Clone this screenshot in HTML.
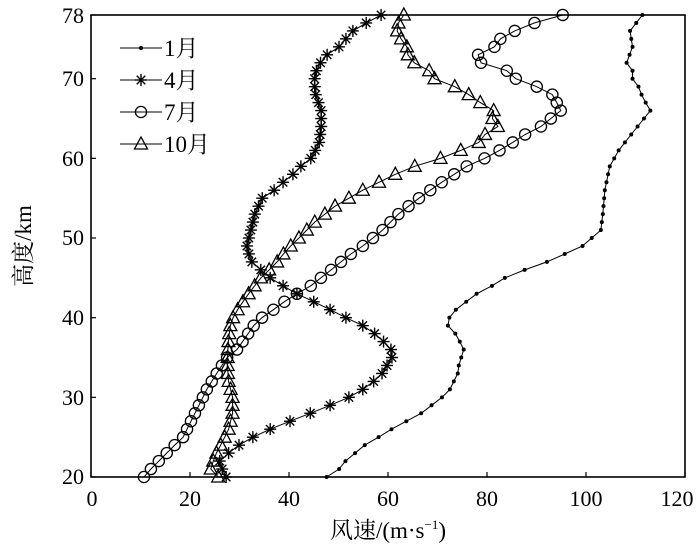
<!DOCTYPE html>
<html><head><meta charset="utf-8">
<style>
html,body{margin:0;padding:0;background:#fff;}
svg{display:block;}
text{font-family:"Liberation Serif","Noto Serif CJK SC",serif;fill:#000;}
</style></head>
<body>
<svg id="s" width="700" height="554" viewBox="0 0 700 554" xmlns="http://www.w3.org/2000/svg">
<rect x="91" y="15" width="594" height="462" fill="none" stroke="#000" stroke-width="1.6"/>
<g id="ticks" stroke="#000" stroke-width="1.2"></g>
<g font-size="22" text-anchor="middle">
<text x="92" y="506">0</text><text x="190" y="506">20</text><text x="289" y="506">40</text>
<text x="388" y="506">60</text><text x="487" y="506">80</text><text x="586" y="506">100</text><text x="677" y="506">120</text>
</g>
<g font-size="22" text-anchor="end">
<text x="84" y="484">20</text><text x="84" y="405">30</text><text x="84" y="325">40</text>
<text x="84" y="245">50</text><text x="84" y="166">60</text><text x="84" y="86">70</text><text x="84" y="23">78</text>
</g>
<text x="388" y="538" font-size="23" text-anchor="middle">风速/(m·s<tspan font-size="13" dy="-9">−1</tspan><tspan dy="9">)</tspan></text>
<text transform="translate(31,246) rotate(-90)" font-size="23" text-anchor="middle">高度/km</text>
<g id="plot"></g>
<g id="legend" font-size="23"></g>
</svg>
<script>
var NS="http://www.w3.org/2000/svg";
function X(v){return 91+v*4.95;}
function Y(h){return 477-(h-20)*7.966;}
function el(t,a,p){var e=document.createElementNS(NS,t);for(var k in a)e.setAttribute(k,a[k]);p.appendChild(e);return e;}
var tk=document.getElementById('ticks');
[0,20,40,60,80,100,120].forEach(function(v){el('line',{x1:X(v),x2:X(v),y1:477,y2:472},tk);});
[20,30,40,50,60,70,78].forEach(function(h){el('line',{x1:91,x2:96,y1:Y(h),y2:Y(h)},tk);});
var S={
jan:[[47.6,20],[50,20.9],[51.4,22],[55.3,24],[58.1,25],[60.7,26],[63.7,27],[66.7,28],[68.8,29],[70.9,30],[72.5,31],[73.3,32],[74.1,33],[74.3,34],[75.3,36],[74.5,37],[73.6,38],[72.1,39],[72.4,40],[73.7,41],[75.8,42],[77.9,43],[81,44],[83.6,45],[87.6,46],[92.1,47],[95.7,48],[99.3,49],[103,51],[103.4,53],[103.8,56],[104.8,59],[106.6,61],[109,62.9],[113,66],[111.4,67.7],[110.6,69],[109.4,70],[109.4,71],[108.2,72],[109.4,74],[108.9,76],[111.4,78]],
apr:[[27.3,20],[26.5,21],[26,22],[27.8,23],[29.9,24],[32.7,25],[36.2,26],[40.2,27],[44.3,28],[48.3,29],[52.1,30],[54.9,31],[57.1,32],[58.8,33],[59.8,34],[60.8,35],[60.6,36],[59.1,37],[57.3,38],[54.9,39],[51.5,40],[48.3,41],[45,42],[41.6,43],[38.8,44],[36.2,45],[34.3,46],[32.5,47],[31.9,48],[31.5,49],[32.3,51],[33.1,53],[34.6,55],[37,56],[38.8,57],[40.8,58],[42.4,59],[44.4,60],[45.3,61],[46.1,62],[46.5,64],[46.5,66],[45.3,68.2],[45.1,69.8],[45.7,71.5],[47.7,73],[50.1,74],[52.9,76],[55.6,77],[58.6,78]],
jul:[[10.7,20],[12.1,21],[13.7,22],[15.3,23],[16.9,24],[18.6,25],[20.2,27],[21.8,29],[23.4,31],[25.4,33],[27.5,35],[29.5,36],[31.4,37.7],[33.1,39.2],[35.1,40.3],[37.1,41.1],[39.5,42.2],[41.6,43],[44.4,44],[48.5,46],[52.5,48],[55.4,49.2],[58.9,51],[62.1,53],[65.8,54.8],[70.6,56.9],[75.9,59],[79.5,60],[82,60.8],[85.2,62],[87.7,63],[90.9,64],[93.3,65.2],[94.9,66],[94.1,66.9],[94.1,67.7],[90.5,68.9],[86,69.9],[84,71],[78.8,72],[78.2,73],[81.5,74],[82.7,75],[85.2,75.9],[89.6,77],[95.3,78]],
oct:[[25.7,20],[24.2,21],[25,22.6],[26.2,24],[27.8,26],[28.6,28],[28.6,30],[27.8,32],[27.6,33.5],[27.6,35.6],[27.8,37.3],[28.1,38.9],[28.7,40],[29.9,41.3],[32.3,43.4],[34.7,45.3],[37.1,46.6],[39.5,48.5],[41.2,49.5],[45.2,52],[49.3,54],[54.9,56],[61.8,58.1],[66.2,59.2],[70.6,60],[74.7,61],[78.7,62.1],[79.7,63.1],[82.2,64],[81.1,65],[81.4,66.2],[78.3,67.1],[76.3,68],[73.5,69],[69.4,70],[68.2,71.1],[65,72.1],[63.8,73.2],[63.8,74.2],[62.2,75.3],[61.8,76.1],[62.2,77.2],[63.2,78]]
};
function interp(a,h){for(var i=0;i<a.length-1;i++){if(h>=a[i][1]&&h<=a[i+1][1]){var t=(h-a[i][1])/(a[i+1][1]-a[i][1]||1);return a[i][0]+t*(a[i+1][0]-a[i][0]);}}return a[a.length-1][0];}
function marker(type,x,y,g){
 if(type=='dot')el('circle',{cx:x,cy:y,r:2,fill:'#000'},g);
 else if(type=='circ')el('circle',{cx:x,cy:y,r:5.6,fill:'none',stroke:'#000','stroke-width':1.3},g);
 else if(type=='tri')el('polygon',{points:(x-6.5)+','+(y+5)+' '+(x+6.5)+','+(y+5)+' '+x+','+(y-7),fill:'none',stroke:'#000','stroke-width':1.3},g);
 else if(type=='star'){var r=6;for(var k=0;k<4;k++){var an=k*Math.PI/4;el('line',{x1:x-r*Math.cos(an),y1:y-r*Math.sin(an),x2:x+r*Math.cos(an),y2:y+r*Math.sin(an),stroke:'#000','stroke-width':1.4},g);}}
}
var P=document.getElementById('plot');
var types={jan:'dot',apr:'star',jul:'circ',oct:'tri'};
for(var key in S){var pts=[];for(var h=20;h<=78;h++){pts.push([X(interp(S[key],h)),Y(h)]);}
 el('polyline',{points:pts.map(function(p){return p[0].toFixed(1)+','+p[1].toFixed(1);}).join(' '),fill:'none',stroke:'#000','stroke-width':1},P);
 pts.forEach(function(p){marker(types[key],p[0],p[1],P);});}
var L=document.getElementById('legend');
var labs=[['jan','1月',48],['apr','4月',80],['jul','7月',112],['oct','10月',144]];
labs.forEach(function(l){el('line',{x1:120,x2:162,y1:l[2],y2:l[2],stroke:'#000','stroke-width':1},L);marker(types[l[0]],141,l[2],L);var t=el('text',{x:164,y:l[2]+8},L);t.textContent=l[1];});
</script>
</body></html>
